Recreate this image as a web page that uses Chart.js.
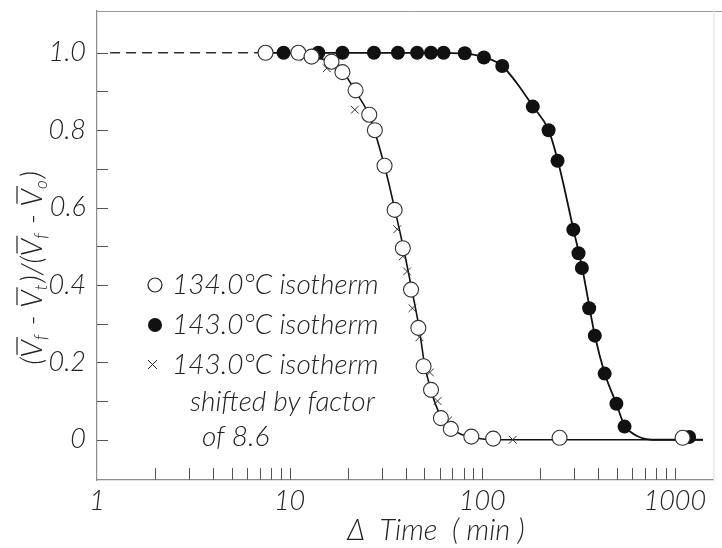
<!DOCTYPE html>
<html>
<head>
<meta charset="utf-8">
<script src="https://cdn.jsdelivr.net/npm/chart.js@4.4.0/dist/chart.umd.min.js"></script>
<style>
  html, body { margin: 0; padding: 0; background: #fff; }
</style>
</head>
<body>
<canvas id="myChart" width="722" height="548"></canvas>
<script>
// 134.0 C isotherm (open circles)
const openX = [7.5, 11.1, 13.0, 16.5, 18.8, 22.0, 25.9, 27.7, 31.1, 35.1, 38.7, 42.7, 46.6, 49.6, 54.2, 61.0, 68.7, 87.8, 114, 252, 1097];
const openY = [1.0, 1.0, 0.99, 0.977, 0.95, 0.903, 0.84, 0.80, 0.708, 0.594, 0.495, 0.388, 0.289, 0.19, 0.129, 0.056, 0.028, 0.008, 0.003, 0.005, 0.005];

// 143.0 C isotherm (filled circles)
const filledX = [9.3, 14.1, 18.8, 27.4, 36.5, 45.9, 54.2, 63, 81.1, 102, 127, 183, 221, 246, 297, 316, 329, 359, 384, 432, 497, 548, 1186];
const filledY = [1.0, 1.0, 1.0, 1.0, 1.0, 1.0, 1.0, 1.0, 0.999, 0.988, 0.966, 0.861, 0.80, 0.721, 0.543, 0.482, 0.444, 0.34, 0.269, 0.171, 0.093, 0.034, 0.007];

// 143.0 C isotherm shifted by factor of 8.6 (crosses)
const crossX = [11.9, 15.6, 21.8, 36.2, 38.7, 40.7, 43.4, 47.2, 53.5, 58.6, 66.5, 144];
const crossY = [0.988, 0.96, 0.853, 0.544, 0.474, 0.435, 0.34, 0.265, 0.174, 0.10, 0.05, 0.0];

// drawn curves
const dashX = [1.17, 7.4];
const dashY = [1, 1];
const fit134X = [7.5, 11, 13, 16.5, 19, 22, 26, 31, 35, 39, 43, 47, 50, 54, 61, 69, 80, 95, 115, 1400];
const fit134Y = [1, 0.998, 0.99, 0.975, 0.95, 0.9, 0.835, 0.71, 0.6, 0.495, 0.39, 0.29, 0.2, 0.13, 0.06, 0.028, 0.012, 0.004, 0, 0];
const fit143X = [9.3, 40, 70, 90, 105, 127, 151, 183, 221, 250, 297, 330, 384, 432, 497, 548, 590, 640, 700, 760, 1400];
const fit143Y = [1, 1, 0.999, 0.995, 0.987, 0.966, 0.922, 0.862, 0.80, 0.71, 0.545, 0.445, 0.27, 0.172, 0.093, 0.036, 0.02, 0.009, 0.002, 0, 0];

// ticks
const xTickValues = [1, 2, 3, 4, 5, 6, 7, 8, 9, 10, 20, 30, 40, 50, 60, 70, 80, 90, 100, 200, 300, 400, 500, 600, 700, 800, 900, 1000];
const xTickLabels = ['1', '', '', '', '', '', '', '', '', '10', '', '', '', '', '', '', '', '', '100', '', '', '', '', '', '', '', '', '1000'];
const yTickValues = [0, 0.1, 0.2, 0.3, 0.4, 0.5, 0.6, 0.7, 0.8, 0.9, 1.0];
const yTickLabels = ['0', '', '0.2', '', '0.4', '', '0.6', '', '0.8', '', '1.0'];

const legendRows = ['134.0°C isotherm', '143.0°C isotherm', '143.0°C isotherm', 'shifted by factor', 'of 8.6'];

const FONT = 'Lato, "Open Sans", sans-serif';

function pts(xs, ys) {
    return xs.map((x, i) => ({ x: x, y: ys[i] }));
}

const insideTicks = {
    id: 'insideTicks',
    beforeDatasetsDraw(chart) {
        const ctx = chart.ctx;
        const a = chart.chartArea;
        const xs = chart.scales.x;
        const ys = chart.scales.y;
        ctx.save();
        ctx.strokeStyle = '#555';
        ctx.lineWidth = 1;
        ctx.beginPath();
        ys.ticks.forEach(t => {
            const py = Math.round(ys.getPixelForValue(t.value)) + 0.5;
            ctx.moveTo(a.left, py);
            ctx.lineTo(a.left + 11, py);
        });
        xs.ticks.forEach(t => {
            if (t.value <= 1) return;
            const px = Math.round(xs.getPixelForValue(t.value)) + 0.5;
            ctx.moveTo(px, a.bottom);
            ctx.lineTo(px, a.bottom - 12);
        });
        ctx.stroke();
        // top and right of the frame
        ctx.beginPath();
        ctx.strokeStyle = '#9a9a9a';
        ctx.moveTo(a.left, a.top + 0.5);
        ctx.lineTo(722, a.top + 0.5);
        ctx.stroke();
        ctx.beginPath();
        ctx.strokeStyle = '#dddddd';
        ctx.moveTo(a.right + 0.5, a.top);
        ctx.lineTo(a.right + 0.5, a.bottom);
        ctx.stroke();
        ctx.restore();
    }
};

const labelsPlugin = {
    id: 'labelsPlugin',
    afterDraw(chart) {
        const ctx = chart.ctx;
        ctx.save();
        ctx.fillStyle = '#222';
        ctx.strokeStyle = '#222';

        // in-plot legend
        ctx.font = 'italic 300 28px ' + FONT;
        ctx.textBaseline = 'middle';
        ctx.textAlign = 'left';
        ctx.fillText(legendRows[0], 172, 285);
        ctx.fillText(legendRows[1], 172, 325);
        ctx.fillText(legendRows[2], 172, 365);
        ctx.fillText(legendRows[3], 190, 402);
        ctx.fillText(legendRows[4], 202, 437);

        ctx.lineWidth = 1.2;
        ctx.fillStyle = '#fff';
        ctx.beginPath();
        ctx.arc(155, 285, 7, 0, Math.PI * 2);
        ctx.fill();
        ctx.stroke();
        ctx.fillStyle = '#111';
        ctx.beginPath();
        ctx.arc(155, 325, 7, 0, Math.PI * 2);
        ctx.fill();
        ctx.beginPath();
        ctx.lineWidth = 1;
        ctx.moveTo(148, 360); ctx.lineTo(157, 369);
        ctx.moveTo(157, 360); ctx.lineTo(148, 369);
        ctx.stroke();

        // x title
        ctx.fillStyle = '#222';
        ctx.font = 'italic 300 29px ' + FONT;
        ctx.textAlign = 'center';
        ctx.fillText('Δ  Time  ( min )', 436, 531);

        // y title, built from pieces so the bars and subscripts are real text
        const parts = [
            ['(', 0], ['V', 1], ['f', 2], [' - ', 0], ['V', 1], ['t', 2], [')/(', 0],
            ['V', 1], ['f', 2], [' - ', 0], ['V', 1], ['o', 2], [')', 0]
        ];
        const big = 'italic 300 29px ' + FONT;
        const small = 'italic 300 17px ' + FONT;
        let total = 0;
        parts.forEach(p => {
            ctx.font = p[1] === 2 ? small : big;
            total += ctx.measureText(p[0]).width + (p[1] === 2 ? 2 : 0);
        });
        ctx.translate(32, 268);
        ctx.rotate(-Math.PI / 2);
        ctx.textAlign = 'left';
        ctx.textBaseline = 'alphabetic';
        let cx = -total / 2;
        parts.forEach(p => {
            ctx.font = p[1] === 2 ? small : big;
            const w = ctx.measureText(p[0]).width;
            if (p[1] === 2) {
                ctx.fillText(p[0], cx, 15);
                cx += w + 2;
            } else {
                ctx.fillText(p[0], cx, 10);
                if (p[1] === 1) {
                    ctx.beginPath();
                    ctx.lineWidth = 1.2;
                    ctx.moveTo(cx + 3, -15);
                    ctx.lineTo(cx + w + 3, -15);
                    ctx.stroke();
                }
                cx += w;
            }
        });
        ctx.restore();
    }
};

const tickFont = { family: FONT, style: 'italic', weight: '300', size: 27 };

new Chart(document.getElementById('myChart'), {
    type: 'line',
    data: {
        datasets: [
            {
                label: '134.0°C isotherm',
                data: pts(openX, openY),
                showLine: false,
                pointStyle: 'circle',
                pointRadius: 7.5,
                pointBorderWidth: 1.1,
                pointBorderColor: '#333',
                pointBackgroundColor: '#fff',
                order: 0
            },
            {
                label: '143.0°C isotherm shifted',
                data: pts(crossX, crossY),
                showLine: false,
                pointStyle: 'crossRot',
                pointRadius: 5.5,
                pointBorderWidth: 1,
                pointBorderColor: '#333',
                order: 1
            },
            {
                label: '143.0°C isotherm',
                data: pts(filledX, filledY),
                showLine: false,
                pointStyle: 'circle',
                pointRadius: 7,
                pointBorderWidth: 0,
                pointBackgroundColor: '#111',
                order: 2
            },
            {
                label: 'dash',
                data: pts(dashX, dashY),
                borderColor: '#3a2a2a',
                borderWidth: 1.6,
                borderDash: [10, 6],
                pointRadius: 0,
                order: 5
            },
            {
                label: 'fit 134',
                data: pts(fit134X, fit134Y),
                borderColor: '#111',
                borderWidth: 1.6,
                cubicInterpolationMode: 'monotone',
                pointRadius: 0,
                order: 5
            },
            {
                label: 'fit 143',
                data: pts(fit143X, fit143Y),
                borderColor: '#111',
                borderWidth: 1.8,
                cubicInterpolationMode: 'monotone',
                pointRadius: 0,
                order: 5
            }
        ]
    },
    options: {
        responsive: false,
        animation: false,
        layout: { padding: { top: 11, right: 4, left: 0, bottom: 0 } },
        plugins: {
            legend: { display: false },
            tooltip: { enabled: false }
        },
        scales: {
            x: {
                type: 'logarithmic',
                min: 1,
                max: 1585,
                afterBuildTicks: scale => {
                    scale.ticks = xTickValues.map(v => ({ value: v }));
                },
                afterFit: scale => {
                    scale.height = 68;
                    scale.paddingLeft = 0;
                    scale.paddingRight = 0;
                },
                grid: { display: false, drawTicks: false },
                border: { display: true, color: '#8c8c8c', width: 1.2 },
                ticks: {
                    autoSkip: false,
                    maxRotation: 0,
                    padding: 5,
                    color: '#222',
                    font: tickFont,
                    callback: (value, index) => xTickLabels[index]
                }
            },
            y: {
                type: 'linear',
                min: -0.104,
                max: 1.108,
                afterBuildTicks: scale => {
                    scale.ticks = yTickValues.map(v => ({ value: v }));
                },
                afterFit: scale => {
                    scale.width = 97;
                    scale.paddingTop = 0;
                    scale.paddingBottom = 0;
                },
                grid: { display: false, drawTicks: false },
                border: { display: true, color: '#8c8c8c', width: 1.2 },
                ticks: {
                    autoSkip: false,
                    padding: 11,
                    color: '#222',
                    font: tickFont,
                    callback: (value, index) => yTickLabels[index]
                }
            }
        }
    },
    plugins: [insideTicks, labelsPlugin]
});
</script>
</body>
</html>
